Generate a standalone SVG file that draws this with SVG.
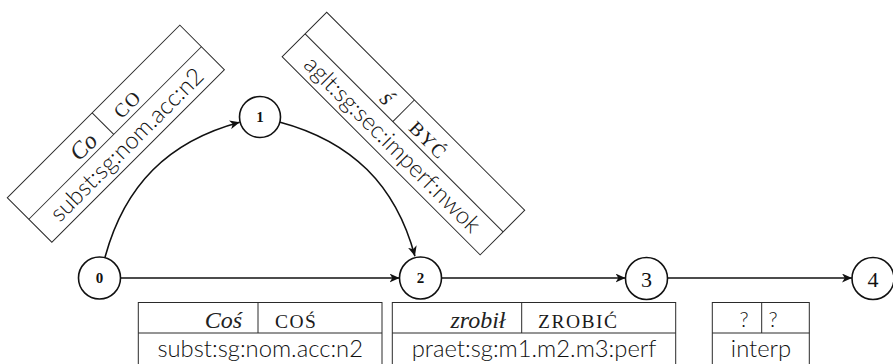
<svg xmlns="http://www.w3.org/2000/svg" width="893" height="364" viewBox="0 0 893 364">
<style>
.tb{fill:none;stroke:#2a2a2a;stroke-width:1}
.tl{stroke:#2a2a2a;stroke-width:1}
.sans{font-family:Lato,"Open Sans","DejaVu Sans",sans-serif;font-weight:300;font-size:23.8px;fill:#111}
.it{font-family:"Liberation Serif","DejaVu Serif",serif;font-style:italic;font-weight:normal;font-size:24px;fill:#222}
.sc{font-family:"Liberation Serif","DejaVu Serif",serif;font-size:19.5px;letter-spacing:1.5px;fill:#1a1a1a}
.q{font-family:Lato,"Open Sans",sans-serif;font-weight:300;font-size:21px;fill:#111}
.nd{fill:#fff;stroke:#111;stroke-width:1.6}
.nl{font-family:"Liberation Serif","DejaVu Serif",serif;font-weight:bold;font-size:15px;fill:#111;text-anchor:middle}
.nl2{font-family:"Liberation Serif","DejaVu Serif",serif;font-size:22px;fill:#111;text-anchor:middle}
.ed{fill:none;stroke:#111;stroke-width:1.6;marker-end:url(#arr)}
</style>
<defs>
<marker id="arr" markerUnits="userSpaceOnUse" markerWidth="11" markerHeight="9" refX="10" refY="4.5" orient="auto">
<path d="M0,0 L10,4.5 L0,9 L2.8,4.5 Z" fill="#111"/>
</marker>
</defs>

<g id="connectors">
<path class="ed" d="M120.5,278 L399.5,278"/>
<path class="ed" d="M441.5,278 L625.5,278"/>
<path class="ed" d="M667.5,278 L852,278"/>
<path class="ed" d="M104.9,257.7 C124.3,185.3 168.3,141.3 239.7,122.2"/>
<path class="ed" d="M279.3,121.9 C351.7,141.3 395.7,184.8 414.9,256.2"/>
</g>

<g id="table-co" transform="translate(7.3,197.7) rotate(-45)">
<rect class="tb" x="0" y="0" width="244" height="63"/>
<line class="tl" x1="0" y1="30.5" x2="244" y2="30.5"/>
<line class="tl" x1="120" y1="0" x2="120" y2="30.5"/>
<text class="it" x="104" y="25.5" text-anchor="end">Co</text>
<text class="sc" x="136" y="25.5">CO</text>
<text class="sans" x="122" y="55" text-anchor="middle">subst:sg:nom.acc:n2</text>
</g>

<g id="table-s" transform="translate(326.7,12.3) rotate(45)">
<rect class="tb" x="0" y="0" width="280" height="63"/>
<line class="tl" x1="0" y1="30.5" x2="280" y2="30.5"/>
<line class="tl" x1="124" y1="0" x2="124" y2="30.5"/>
<text class="it" x="108" y="25.5" text-anchor="end">ś</text>
<text class="sc" x="140" y="25.5">BYĆ</text>
<text class="sans" x="140" y="55" text-anchor="middle">aglt:sg:sec:imperf:nwok</text>
</g>

<g id="table-cos">
<rect class="tb" x="138.3" y="302.5" width="243.7" height="64"/>
<line class="tl" x1="138.3" y1="333" x2="382" y2="333"/>
<line class="tl" x1="258" y1="302.5" x2="258" y2="333"/>
<text class="it" x="242" y="328" text-anchor="end">Coś</text>
<text class="sc" x="275" y="328">COŚ</text>
<text class="sans" x="260.2" y="357" text-anchor="middle">subst:sg:nom.acc:n2</text>
</g>

<g id="table-zrobil">
<rect class="tb" x="392.3" y="302.5" width="283.4" height="64"/>
<line class="tl" x1="392.3" y1="333" x2="675.7" y2="333"/>
<line class="tl" x1="521.7" y1="302.5" x2="521.7" y2="333"/>
<text class="it" x="505.5" y="328" text-anchor="end">zrobił</text>
<text class="sc" x="538" y="328">ZROBIĆ</text>
<text class="sans" x="534" y="357" text-anchor="middle">praet:sg:m1.m2.m3:perf</text>
</g>

<g id="table-q">
<rect class="tb" x="712.3" y="302.5" width="97" height="64"/>
<line class="tl" x1="712.3" y1="333" x2="809.3" y2="333"/>
<line class="tl" x1="761.7" y1="302.5" x2="761.7" y2="333"/>
<text class="q" x="744" y="327" text-anchor="middle">?</text>
<text class="q" x="773" y="327" text-anchor="middle">?</text>
<text class="sans" x="761" y="357" text-anchor="middle">interp</text>
</g>

<g id="node0"><circle class="nd" cx="99.5" cy="278" r="21"/><text class="nl" x="99.5" y="283">0</text></g>
<g id="node1"><circle class="nd" cx="260" cy="117" r="20.5"/><text class="nl" x="260" y="122">1</text></g>
<g id="node2"><circle class="nd" cx="420.5" cy="278" r="21"/><text class="nl" x="420.5" y="283">2</text></g>
<g id="node3"><circle class="nd" cx="646.5" cy="278.5" r="21"/><text class="nl2" x="646.5" y="286.5">3</text></g>
<g id="node4"><circle class="nd" cx="873" cy="278.5" r="21"/><text class="nl2" x="873" y="286.5">4</text></g>
</svg>
